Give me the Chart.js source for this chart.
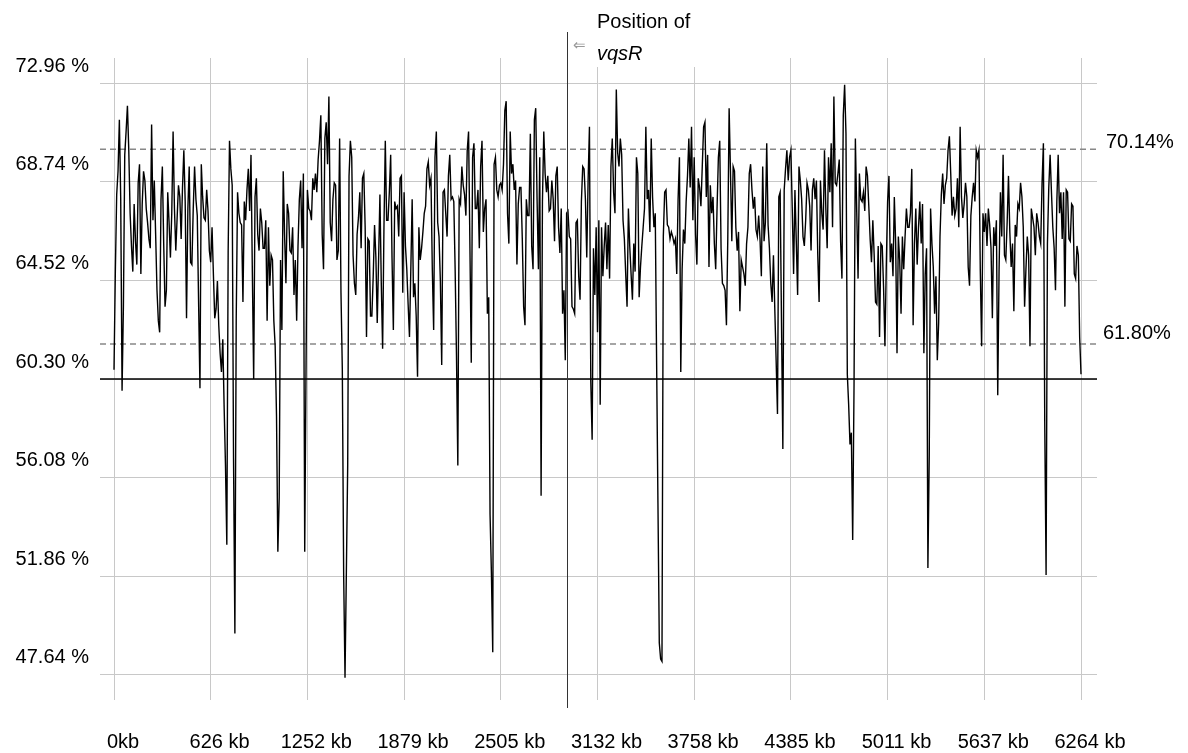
<!DOCTYPE html>
<html>
<head>
<meta charset="utf-8">
<title>GC content - vqsR</title>
<script src="https://cdn.jsdelivr.net/npm/chart.js@4.4.1/dist/chart.umd.min.js"></script>
<style>
  html, body { margin: 0; padding: 0; background: #fff; }
  #wrap { width: 1188px; height: 753px; }
</style>
</head>
<body>
<div id="wrap"><canvas id="gcChart" width="1188" height="753"></canvas></div>
<script>
// ------------------------------
// data (GC %, evenly spaced windows, split by grid interval)
// ------------------------------
const GENOME_KB = 6264;
const gc0000 = [60.7, 64.9, 68.2, 69.2, 71.4, 68.0, 59.8, 63.4, 69.9, 70.9, 72.0, 70.1, 67.4, 66.0, 64.9, 67.8, 66.2, 65.2, 68.7, 69.5, 64.8, 67.8, 69.2, 68.8, 67.6, 67.0, 66.3, 65.9, 71.2, 67.1, 68.8, 66.5, 64.1, 62.8, 62.3, 68.0, 69.4, 66.1, 63.4, 64.1, 68.3, 67.0, 65.5, 67.4, 70.9, 67.6, 65.8, 67.2, 68.6, 68.1, 66.3, 68.5, 70.1, 67.9, 62.9, 67.6, 69.4, 65.3, 65.2, 67.6, 69.4, 68.0, 67.3, 63.5, 59.9, 69.5, 68.1, 67.2, 67.1, 68.4, 67.5, 65.8];
const gc0626 = [65.3, 66.8, 64.8, 62.9, 63.3, 64.5, 62.6, 61.4, 60.6, 62.0, 59.1, 56.6, 53.2, 65.8, 70.5, 69.3, 68.6, 56.9, 49.4, 62.9, 68.3, 67.4, 67.0, 66.9, 63.6, 67.9, 67.1, 68.4, 69.3, 67.5, 69.9, 64.9, 60.3, 68.1, 68.9, 66.5, 65.8, 67.6, 67.0, 65.9, 65.9, 67.1, 62.8, 66.8, 64.3, 65.6, 65.4, 62.8, 61.7, 58.7, 52.9, 55.2, 65.4, 62.4, 69.2, 66.5, 64.4, 67.8, 67.4, 65.8, 65.7, 66.8, 63.9, 65.4, 62.8, 66.0, 68.0, 68.8, 65.9, 69.1, 52.9, 61.0];
const gc1252 = [68.4, 67.6, 67.5, 67.1, 68.9, 68.4, 69.1, 68.3, 69.7, 70.5, 71.6, 66.5, 65.0, 70.6, 71.3, 69.5, 72.4, 67.0, 66.2, 68.0, 68.7, 68.6, 65.4, 65.8, 70.6, 64.0, 60.7, 51.9, 47.5, 52.0, 56.6, 69.0, 70.5, 69.8, 65.6, 64.4, 63.9, 66.5, 67.2, 68.3, 65.9, 68.9, 69.1, 66.8, 62.1, 66.3, 66.2, 63.0, 63.0, 64.7, 66.9, 65.5, 62.7, 65.4, 68.2, 64.4, 61.6, 66.8, 70.5, 67.1, 67.1, 68.3, 69.9, 65.5, 62.4, 67.9, 67.6, 67.7, 66.4, 68.9, 69.0, 64.0];
const gc1879 = [68.3, 66.0, 65.0, 63.5, 62.1, 65.0, 68.0, 63.8, 64.4, 63.0, 60.4, 66.8, 65.4, 65.9, 66.6, 67.4, 67.7, 69.3, 69.6, 68.6, 68.9, 65.0, 62.4, 69.8, 70.9, 67.0, 66.4, 64.5, 60.9, 68.3, 68.4, 67.4, 66.4, 69.0, 69.9, 68.0, 68.1, 67.9, 65.0, 61.3, 56.6, 68.0, 67.8, 69.4, 68.6, 68.2, 67.3, 70.1, 70.9, 66.0, 61.0, 69.8, 70.4, 67.6, 67.6, 68.4, 65.9, 69.4, 70.5, 66.6, 67.6, 68.0, 63.1, 63.8, 54.5, 52.0, 48.6, 69.5, 69.8, 68.4, 68.1, 68.6];
const gc2505 = [68.7, 68.4, 69.5, 71.8, 72.2, 67.4, 66.1, 70.9, 69.1, 69.5, 68.4, 68.8, 65.2, 67.8, 68.5, 68.5, 66.3, 63.4, 62.6, 68.0, 67.3, 67.3, 70.8, 66.0, 65.0, 71.4, 71.9, 68.0, 65.0, 69.8, 55.3, 67.9, 70.9, 69.1, 68.3, 69.0, 67.5, 67.6, 68.8, 68.0, 66.2, 69.0, 69.4, 66.8, 65.7, 67.6, 63.1, 64.1, 61.1, 67.4, 67.5, 66.4, 66.3, 63.4, 63.3, 63.1, 67.0, 67.1, 64.7, 63.7, 67.9, 69.4, 69.3, 68.0, 65.5, 68.8, 71.1, 60.2, 57.7, 65.9, 63.9, 66.8];
const gc3132 = [62.3, 67.1, 59.2, 66.8, 64.7, 66.0, 67.0, 65.0, 66.9, 64.6, 69.4, 70.6, 68.3, 67.4, 72.7, 70.0, 69.4, 70.6, 69.9, 67.1, 66.3, 64.8, 63.4, 67.6, 66.0, 64.8, 63.7, 66.1, 64.9, 69.8, 69.1, 63.8, 65.1, 66.0, 66.8, 67.6, 71.1, 68.0, 68.4, 66.6, 70.6, 68.1, 66.8, 67.4, 61.1, 55.0, 49.0, 48.3, 48.2, 66.4, 68.3, 68.4, 66.9, 66.8, 66.3, 66.6, 66.4, 66.1, 66.3, 64.8, 68.0, 69.8, 60.6, 65.0, 66.7, 66.1, 67.9, 69.0, 70.6, 68.5, 71.1, 67.1];
const gc3758 = [69.8, 66.5, 65.2, 68.9, 68.5, 67.7, 69.4, 71.1, 71.3, 68.1, 69.9, 65.1, 68.6, 67.4, 68.1, 66.1, 65.0, 67.6, 69.8, 70.5, 65.9, 64.4, 64.3, 64.1, 62.6, 66.3, 71.9, 69.2, 66.2, 69.4, 69.2, 66.8, 65.8, 66.6, 63.2, 65.4, 65.1, 64.8, 64.3, 66.1, 66.8, 69.1, 69.5, 68.4, 67.6, 68.1, 66.7, 66.4, 67.3, 66.3, 64.7, 69.4, 66.2, 67.0, 70.4, 66.9, 65.9, 64.4, 63.6, 65.6, 63.3, 61.1, 58.8, 68.1, 68.3, 62.7, 57.3, 68.4, 69.3, 70.1, 68.8, 69.8];
const gc4385 = [70.1, 67.6, 64.8, 68.4, 66.2, 63.9, 69.4, 68.8, 68.0, 66.4, 66.0, 67.1, 68.7, 68.4, 67.7, 65.8, 68.4, 68.9, 68.0, 68.8, 65.6, 63.6, 68.8, 67.4, 66.7, 70.1, 67.6, 65.9, 69.8, 68.3, 70.4, 66.8, 72.4, 68.7, 68.6, 69.1, 69.7, 66.2, 64.6, 71.6, 72.9, 70.8, 60.5, 59.2, 57.5, 58.0, 53.4, 60.0, 70.6, 67.5, 64.6, 69.1, 68.0, 67.9, 68.3, 67.5, 69.4, 69.0, 67.7, 66.3, 65.3, 67.1, 65.6, 63.6, 63.5, 66.0, 62.1, 66.1, 66.0, 64.2, 61.7, 65.1];
const gc5011 = [67.9, 69.0, 65.3, 66.1, 64.7, 68.1, 66.1, 61.4, 66.4, 65.4, 63.1, 66.4, 65.0, 66.4, 67.6, 66.8, 66.8, 67.4, 69.3, 62.6, 66.1, 67.6, 65.2, 66.8, 67.9, 66.1, 67.8, 61.4, 64.8, 65.9, 52.2, 57.0, 67.6, 66.1, 65.1, 63.1, 64.7, 61.1, 62.7, 66.4, 68.2, 69.1, 67.8, 68.6, 68.9, 70.1, 70.7, 69.1, 67.3, 68.1, 67.3, 67.6, 68.9, 66.8, 71.1, 68.1, 67.2, 67.8, 68.7, 68.1, 65.1, 64.3, 67.3, 68.1, 68.7, 67.9, 70.1, 69.8, 70.1, 65.0, 61.7, 67.4];
const gc5637 = [66.6, 67.4, 66.0, 67.6, 66.9, 65.9, 62.9, 66.8, 66.0, 67.1, 59.6, 65.0, 68.3, 66.4, 69.9, 65.6, 65.4, 67.0, 69.0, 66.6, 65.1, 66.1, 63.2, 66.9, 66.4, 67.8, 67.6, 68.7, 68.1, 66.8, 63.4, 65.0, 66.4, 65.6, 61.7, 67.6, 67.2, 66.8, 65.6, 67.4, 67.0, 66.4, 66.1, 68.7, 70.4, 58.4, 51.9, 66.1, 68.5, 69.9, 68.3, 66.8, 65.9, 64.1, 67.9, 69.9, 67.4, 68.3, 66.3, 68.3, 63.4, 68.4, 68.3, 66.3, 66.2, 67.8, 67.7, 64.8, 64.6, 66.0, 65.6, 62.1, 60.5];

// axes
const Y_TICKS = [47.64, 51.86, 56.08, 60.30, 64.52, 68.74, 72.96];
const X_TICK_KB = [0, 626, 1252, 1879, 2505, 3132, 3758, 4385, 5011, 5637, 6264];
const X_TICK_LABELS = ["0kb", "626 kb", "1252 kb", "1879 kb", "2505 kb", "3132 kb", "3758 kb", "4385 kb", "5011 kb", "5637 kb", "6264 kb"];

// reference lines
const UPPER_LIMIT = 70.14;
const LOWER_LIMIT = 61.80;
const BASE_LINE = 60.30;
const VQSR_KB = 2935;

const X_MIN = -90.7, X_MAX = 6367.6;
const Y_MIN = 46.55, Y_MAX = 74.05;
const FONT = "'Liberation Sans', Arial, sans-serif";

const gcValues = [].concat(gc0000, gc0626, gc1252, gc1879, gc2505, gc3132, gc3758, gc4385, gc5011, gc5637);
const STEP_KB = GENOME_KB / (gcValues.length - 1);
const gcPoints = gcValues.map((v, i) => ({ x: i * STEP_KB, y: v }));

function hLine(y) {
  return [{ x: X_MIN, y: y }, { x: X_MAX, y: y }];
}

// ------------------------------
// vqsR marker (line + label)
// ------------------------------
const vqsrMarker = {
  id: "vqsrMarker",
  beforeDatasetsDraw(chart) {
    // label box hides the top of the grid lines behind it
    const ctx = chart.ctx;
    const px = chart.scales.x.getPixelForValue(VQSR_KB);
    ctx.save();
    ctx.fillStyle = "#fff";
    ctx.fillRect(px + 24, 0, 118, 67);
    ctx.restore();
  },
  afterDatasetsDraw(chart) {
    const ctx = chart.ctx;
    const px = Math.round(chart.scales.x.getPixelForValue(VQSR_KB)) + 0.5;
    ctx.save();
    ctx.strokeStyle = "#333";
    ctx.lineWidth = 1;
    ctx.beginPath();
    ctx.moveTo(px, 32);
    ctx.lineTo(px, 708);
    ctx.stroke();

    ctx.fillStyle = "#000";
    ctx.textBaseline = "middle";
    ctx.textAlign = "left";
    ctx.font = "20px " + FONT;
    ctx.fillText("Position of", px + 29.5, 22);
    ctx.font = "italic 20px " + FONT;
    ctx.fillText("vqsR", px + 29.5, 54);
    ctx.fillStyle = "#999";
    ctx.font = "15px " + FONT;
    ctx.fillText("\u21D0", px + 5, 46);
    ctx.restore();
  }
};

// ------------------------------
// chart
// ------------------------------
const ctx = document.getElementById("gcChart");
const gcChart = new Chart(ctx, {
  type: "line",
  data: {
    datasets: [
      {
        label: "GC content",
        data: gcPoints,
        borderColor: "#000",
        borderWidth: 1.4,
        pointRadius: 0,
        tension: 0,
        order: 0
      },
      {
        label: "70.14%",
        data: hLine(UPPER_LIMIT),
        borderColor: "#888",
        borderWidth: 1.5,
        borderDash: [6, 4],
        pointRadius: 0,
        order: 2
      },
      {
        label: "61.80%",
        data: hLine(LOWER_LIMIT),
        borderColor: "#888",
        borderWidth: 1.5,
        borderDash: [6, 4],
        pointRadius: 0,
        order: 2
      },
      {
        label: "base",
        data: hLine(BASE_LINE),
        borderColor: "#000",
        borderWidth: 1.5,
        pointRadius: 0,
        order: 1
      }
    ]
  },
  options: {
    responsive: false,
    animation: false,
    devicePixelRatio: 1,
    layout: { padding: { top: 58, right: 91, bottom: 0, left: 0 } },
    plugins: { legend: { display: false }, tooltip: { enabled: false } },
    scales: {
      x: {
        type: "linear",
        min: X_MIN,
        max: X_MAX,
        afterBuildTicks: scale => { scale.ticks = X_TICK_KB.map(v => ({ value: v })); },
        afterFit: scale => { scale.height = 53; },
        grid: { color: "#c8c8c8", lineWidth: 1, drawTicks: false },
        border: { display: false },
        ticks: {
          autoSkip: false,
          maxRotation: 0,
          padding: 30,
          labelOffset: 9,
          color: "#000",
          font: { family: FONT, size: 20 },
          callback: (val, i) => X_TICK_LABELS[i]
        }
      },
      y: {
        type: "linear",
        min: Y_MIN,
        max: Y_MAX,
        afterBuildTicks: scale => { scale.ticks = Y_TICKS.map(v => ({ value: v })); },
        afterFit: scale => { scale.width = 100; },
        grid: { color: "#c8c8c8", lineWidth: 1, drawTicks: false },
        border: { display: false },
        ticks: {
          autoSkip: false,
          padding: 11,
          labelOffset: -17,
          color: "#000",
          font: { family: FONT, size: 20 },
          callback: val => val.toFixed(2) + " %"
        }
      }
    }
  },
  plugins: [
    vqsrMarker,
    {
      id: "limitLabels",
      afterDraw(chart) {
        const c = chart.ctx;
        const y = chart.scales.y;
        c.save();
        c.fillStyle = "#000";
        c.font = "20px " + FONT;
        c.textBaseline = "middle";
        c.fillText(UPPER_LIMIT.toFixed(2) + "%", 1106, y.getPixelForValue(UPPER_LIMIT) - 7);
        c.fillText(LOWER_LIMIT.toFixed(2) + "%", 1103, y.getPixelForValue(LOWER_LIMIT) - 10);
        c.restore();
      }
    }
  ]
});
</script>
</body>
</html>
